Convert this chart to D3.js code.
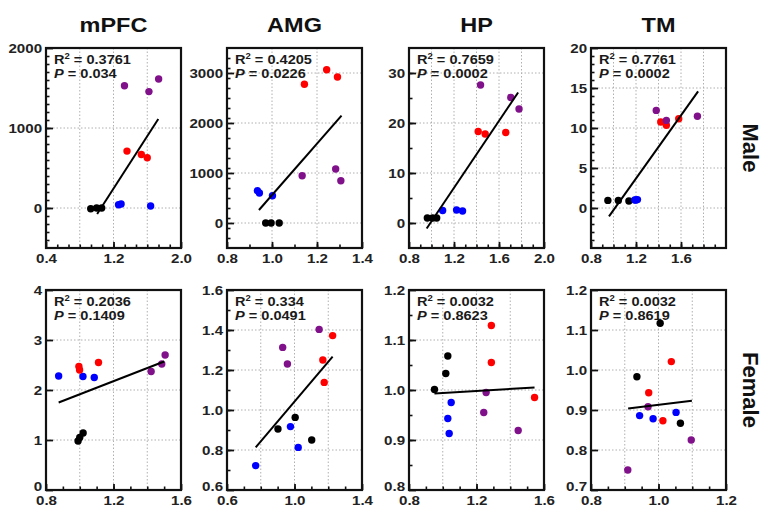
<!DOCTYPE html>
<html><head><meta charset="utf-8">
<script src="https://cdn.jsdelivr.net/npm/d3@7"></script>
<style>body{margin:0;background:#fff}svg{display:block}</style></head>
<body><svg id="c" width="764" height="508"></svg>
<script>
// ---------- DATA ----------
const regions = ["mPFC", "AMG", "HP", "TM"];
const sexes = ["Male", "Female"];
// group of each point (3 per group): g1 black, g2 blue, g3 red, g4 purple
const pointGroups = ["g1","g1","g1","g2","g2","g2","g3","g3","g3","g4","g4","g4"];

// Male
const mPFC_M_x = [0.93, 1.00, 1.06, 1.26, 1.29, 1.64, 1.36, 1.53, 1.60, 1.33, 1.62, 1.735];
const mPFC_M_y = [-10, 0, 0, 40, 50, 25, 711, 669, 628, 1529, 1455, 1612];
const AMG_M_x = [0.972, 0.996, 1.032, 0.935, 0.944, 1.002, 1.144, 1.243, 1.291, 1.134, 1.283, 1.306];
const AMG_M_y = [0, 0, 0, 646, 600, 546, 2774, 3066, 2920, 946, 1080, 846];
const HP_M_x = [0.963, 1.01, 1.046, 1.099, 1.223, 1.276, 1.415, 1.477, 1.66, 1.436, 1.705, 1.778];
const HP_M_y = [1.0, 1.0, 1.0, 2.5, 2.6, 2.4, 18.3, 17.8, 18.1, 27.6, 25.1, 22.8];
const TM_M_x = [0.95, 1.043, 1.137, 1.189, 1.20, 1.213, 1.42, 1.47, 1.58, 1.38, 1.47, 1.746];
const TM_M_y = [0.95, 0.95, 0.87, 1.0, 1.0, 1.05, 10.75, 10.35, 11.15, 12.2, 10.95, 11.46];
// Female
const mPFC_F_x = [0.99, 1.00, 1.02, 0.875, 1.019, 1.086, 0.995, 0.999, 1.111, 1.423, 1.486, 1.506];
const mPFC_F_y = [0.98, 1.05, 1.14, 2.28, 2.27, 2.25, 2.47, 2.40, 2.55, 2.37, 2.52, 2.70];
const AMG_F_x = [0.902, 1.004, 1.102, 0.77, 0.976, 1.022, 1.226, 1.168, 1.176, 0.93, 0.958, 1.146];
const AMG_F_y = [0.905, 0.963, 0.85, 0.722, 0.917, 0.813, 1.372, 1.25, 1.138, 1.313, 1.23, 1.403];
const HP_F_x = [0.951, 1.018, 1.03, 1.05, 1.03, 1.038, 1.288, 1.288, 1.544, 1.257, 1.243, 1.447];
const HP_F_y = [1.001, 1.033, 1.068, 0.975, 0.943, 0.913, 1.129, 1.055, 0.985, 0.995, 0.955, 0.919];
const TM_F_x = [1.005, 0.936, 1.065, 0.944, 0.984, 1.052, 1.038, 0.971, 1.013, 0.969, 1.097, 0.909];
const TM_F_y = [1.117, 0.983, 0.867, 0.886, 0.878, 0.894, 1.021, 0.943, 0.873, 0.908, 0.825, 0.75];

// regression line end points (x0, y0, x1, y1) per panel
const fitX0 = [1.006, 0.942, 0.957, 0.96, 0.875, 0.77, 0.951, 0.91];
const fitY0 = [-74, 260, -1.1, -1.04, 1.75, 0.813, 0.993, 0.904];
const fitX1 = [1.731, 1.309, 1.77, 1.752, 1.50, 1.226, 1.544, 1.099];
const fitY1 = [1112, 2146, 26.1, 14.58, 2.57, 1.267, 1.005, 0.923];

const r2Values = ["0.3761", "0.4205", "0.7659", "0.7761", "0.2036", "0.334", "0.0032", "0.0032"];
const pValues = ["0.034", "0.0226", "0.0002", "0.0002", "0.1409", "0.0491", "0.8623", "0.8619"];

// axes
const xDomains = [[0.4,2.0],[0.8,1.4],[0.8,2.0],[0.8,2.0],[0.8,1.6],[0.6,1.4],[0.8,1.6],[0.8,1.2]];
const yDomains = [[-500,2000],[-500,3500],[-5,35],[-5,20],[0,4],[0.6,1.6],[0.8,1.2],[0.7,1.2]];
const xTickLabels = [[0.4,1.2,2.0],[0.8,1.0,1.2,1.4],[0.8,1.2,1.6,2.0],[0.8,1.2,1.6],[0.8,1.2,1.6],[0.6,1.0,1.4],[0.8,1.2,1.6],[0.8,1.0,1.2]];
const yTickLabels = [[0,1000,2000],[0,1000,2000,3000],[0,10,20,30],[0,5,10,15,20],[0,1,2,3,4],[0.6,0.8,1.0,1.2,1.4,1.6],[0.8,0.9,1.0,1.1,1.2],[0.7,0.8,0.9,1.0,1.1,1.2]];
const yFormats = ["d","d","d","d","d",".1f",".1f",".1f"];
const xGrid = [[0.8,1.2,1.6],[1.0,1.2],[1.0,1.2,1.4,1.6,1.8],[1.0,1.2,1.4,1.6,1.8],[1.0,1.2,1.4],[0.8,1.0,1.2],[1.0,1.2,1.4],[0.9,1.0,1.1]];
const yGrid = [[0,1000],[0,1000,2000,3000],[0,10,20,30],[0,5,10,15],[1,2,3],[0.8,1.0,1.2,1.4],[0.9,1.0,1.1],[0.8,0.9,1.0,1.1]];
const xMinorStep = [0.4/3, 0.1, 0.1, 0.1, 0.1, 0.1, 0.1, 0.05];
const yMinorStep = [100, 200, 5, 1, 0, 0.1, 0.05, 0];

// ---------- DRAW ----------
const panelX = [mPFC_M_x, AMG_M_x, HP_M_x, TM_M_x, mPFC_F_x, AMG_F_x, HP_F_x, TM_F_x];
const panelY = [mPFC_M_y, AMG_M_y, HP_M_y, TM_M_y, mPFC_F_y, AMG_F_y, HP_F_y, TM_F_y];

const svg = d3.select("#c");
const colLeft = [46, 227, 409, 591], rowTop = [48, 290], PW = 135, PH = 200;
const colorOf = {g1: "#000000", g2: "#0000ff", g3: "#ff0000", g4: "#80118a"};
const FONT = "'Liberation Sans', Arial, sans-serif";
const SX = 1.12;

function stepValues(dom, step) {
  if (!step) return [];
  const n = Math.round((dom[1] - dom[0]) / step);
  return d3.range(1, n).map(k => dom[0] + k * step);
}

panelX.forEach((xs, i) => {
  const row = Math.floor(i / 4), col = i % 4;
  const L = colLeft[col], T = rowTop[row];
  const x = d3.scaleLinear().domain(xDomains[i]).range([L, L + PW]);
  const y = d3.scaleLinear().domain(yDomains[i]).range([T + PH, T]);
  const g = svg.append("g");

  // grid
  g.append("g").selectAll("line").data(xGrid[i]).join("line")
    .attr("x1", d => x(d)).attr("x2", d => x(d)).attr("y1", T).attr("y2", T + PH)
    .attr("stroke", "#b0b0b0").attr("stroke-width", 1).attr("stroke-dasharray", "1.5,2");
  g.append("g").selectAll("line").data(yGrid[i]).join("line")
    .attr("y1", d => y(d)).attr("y2", d => y(d)).attr("x1", L).attr("x2", L + PW)
    .attr("stroke", "#b0b0b0").attr("stroke-width", 1).attr("stroke-dasharray", "1.5,2");

  // minor ticks
  const xMinor = stepValues(xDomains[i], xMinorStep[i]);
  g.append("g").attr("transform", `translate(0,${T + PH})`)
    .call(d3.axisBottom(x).tickValues(xMinor).tickSizeInner(-3.5).tickSizeOuter(0).tickFormat(""))
    .call(a => a.select(".domain").remove())
    .call(a => a.selectAll("line").attr("stroke", "#111").attr("stroke-width", 1.6));
  const yMinor = stepValues(yDomains[i], yMinorStep[i]);
  g.append("g").attr("transform", `translate(${L},0)`)
    .call(d3.axisLeft(y).tickValues(yMinor).tickSizeInner(-3.5).tickSizeOuter(0).tickFormat(""))
    .call(a => a.select(".domain").remove())
    .call(a => a.selectAll("line").attr("stroke", "#111").attr("stroke-width", 1.6));

  // major ticks + labels
  const xa = g.append("g").attr("transform", `translate(0,${T + PH})`)
    .call(d3.axisBottom(x).tickValues(xTickLabels[i]).tickSizeInner(-6).tickSizeOuter(0)
      .tickPadding(4).tickFormat(d3.format(".1f")));
  xa.select(".domain").remove();
  xa.selectAll("line").attr("stroke", "#111").attr("stroke-width", 1.8);
  xa.selectAll("text").attr("font-family", FONT).attr("font-weight", "bold").attr("font-size", 13.5)
    .attr("fill", "#222").attr("y", 3).attr("dy", "0.88em").attr("transform", `scale(${SX},1)`);

  const ya = g.append("g").attr("transform", `translate(${L},0)`)
    .call(d3.axisLeft(y).tickValues(yTickLabels[i]).tickSizeInner(-7).tickSizeOuter(0)
      .tickPadding(3.5).tickFormat(d3.format(yFormats[i])));
  ya.select(".domain").remove();
  ya.selectAll("line").attr("stroke", "#111").attr("stroke-width", 1.8);
  ya.selectAll("text").attr("font-family", FONT).attr("font-weight", "bold").attr("font-size", 13.5)
    .attr("fill", "#222").attr("transform", `scale(${SX},1)`)
    .attr("dy", (d, k) => (row === 1 && k === 0) ? "0.05em" : "0.32em");

  // frame
  g.append("rect").attr("x", L).attr("y", T).attr("width", PW).attr("height", PH)
    .attr("fill", "none").attr("stroke", "#111").attr("stroke-width", 2.2);

  // points
  g.append("g").selectAll("circle").data(xs.map((v, k) => ({x: v, y: panelY[i][k], g: pointGroups[k]})))
    .join("circle").attr("cx", d => x(d.x)).attr("cy", d => y(d.y)).attr("r", 3.7)
    .attr("fill", d => colorOf[d.g]);

  // regression line
  g.append("line").attr("x1", x(fitX0[i])).attr("y1", y(fitY0[i]))
    .attr("x2", x(fitX1[i])).attr("y2", y(fitY1[i]))
    .attr("stroke", "#000").attr("stroke-width", 2);

  // annotation
  const t1 = g.append("text").attr("transform", `translate(${L + 8},${T + 16}) scale(${SX},1)`)
    .attr("font-family", FONT).attr("font-weight", "bold").attr("font-size", 13).attr("fill", "#1a1a1a");
  t1.append("tspan").text("R");
  t1.append("tspan").text("2").attr("font-size", 8.5).attr("dy", -5);
  t1.append("tspan").text(" = " + r2Values[i]).attr("dy", 5);
  const t2 = g.append("text").attr("transform", `translate(${L + 8},${T + 29.5}) scale(${SX},1)`)
    .attr("font-family", FONT).attr("font-weight", "bold").attr("font-size", 13).attr("fill", "#1a1a1a");
  t2.append("tspan").text("P").attr("font-style", "italic");
  t2.append("tspan").text(" = " + pValues[i]);

  // column title
  if (row === 0) {
    svg.append("text").attr("transform", `translate(${L + PW / 2},32) scale(${SX},1)`)
      .attr("text-anchor", "middle").attr("font-family", FONT).attr("font-weight", "bold")
      .attr("font-size", 21).attr("fill", "#111").text(regions[col]);
  }
  if (col === 3) {
    svg.append("text").attr("transform", `translate(751,${T + PH / 2}) rotate(90)`)
      .attr("text-anchor", "middle").attr("dy", "0.36em").attr("font-family", FONT)
      .attr("font-weight", "bold").attr("font-size", 22).attr("fill", "#111").text(sexes[row]);
  }
});
</script>
</body></html>
